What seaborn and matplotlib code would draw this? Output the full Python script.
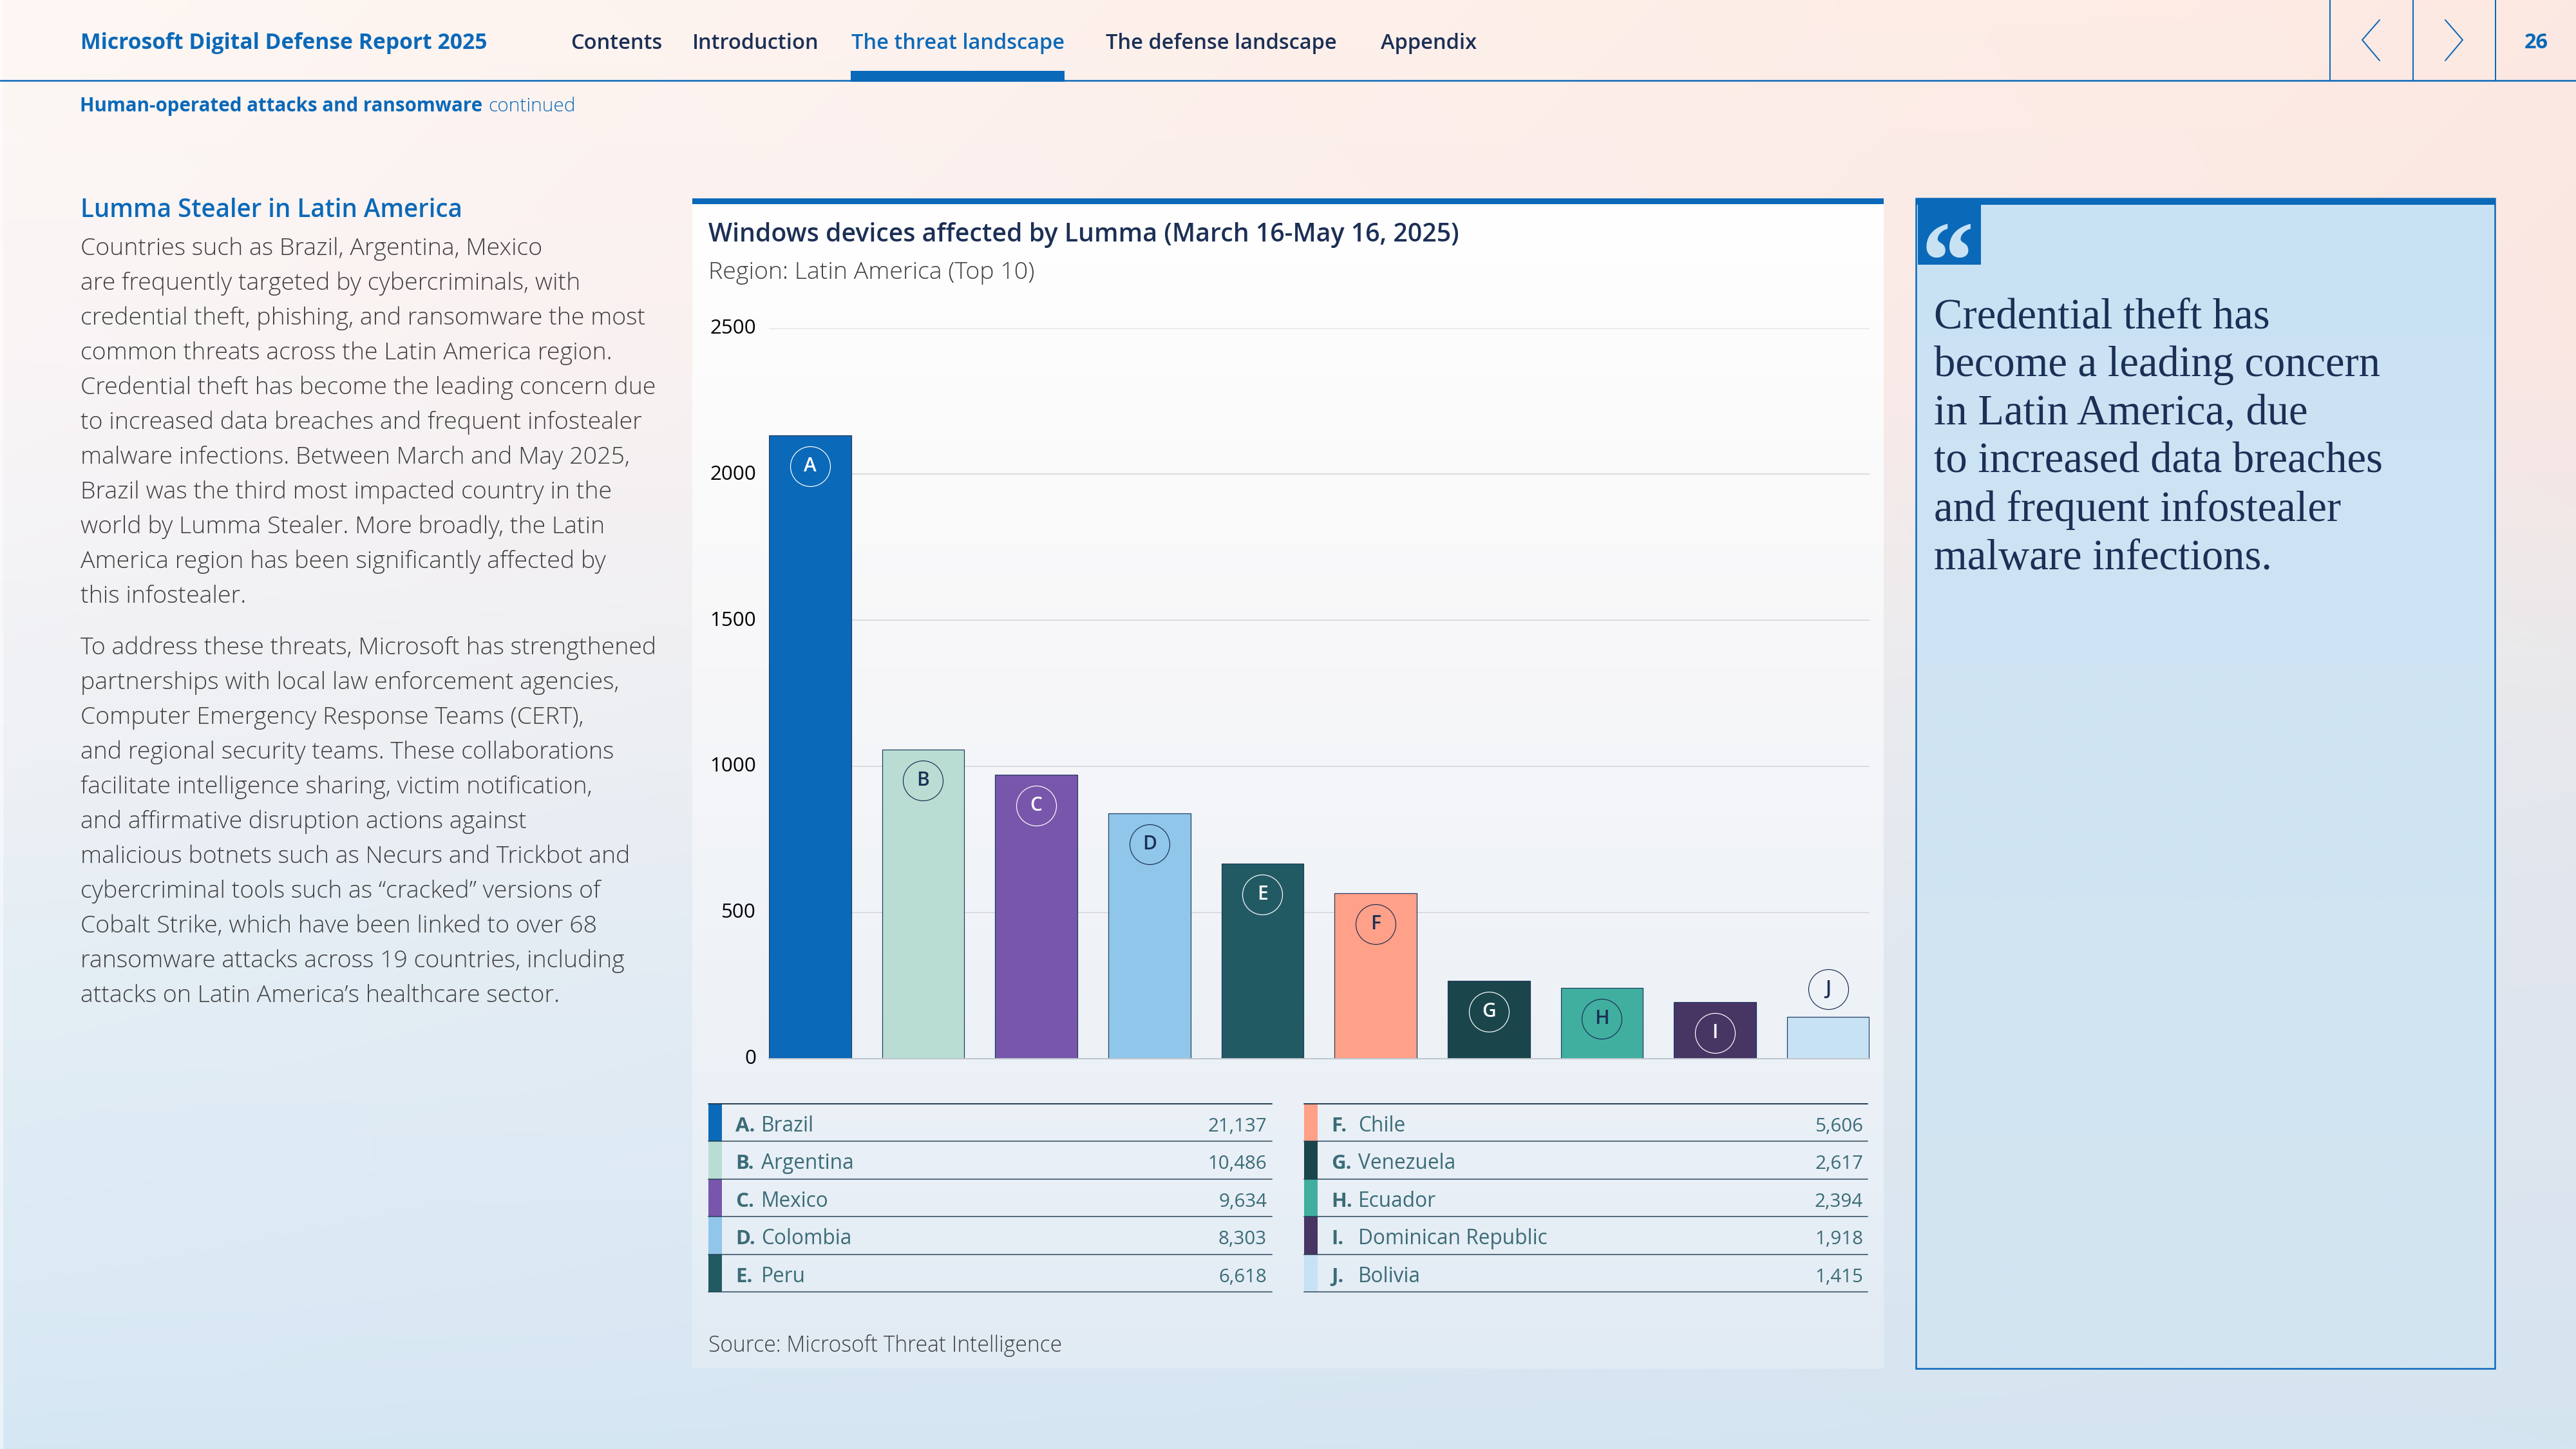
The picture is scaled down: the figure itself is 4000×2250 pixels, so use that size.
import numpy as np
import pandas as pd
import matplotlib
matplotlib.use("Agg")
import matplotlib.pyplot as plt
from matplotlib.colors import to_rgb
from matplotlib.patches import Rectangle
from matplotlib.transforms import ScaledTranslation, offset_copy
import seaborn as sns

# =========================
# Data
# =========================
letters = ["A", "B", "C", "D", "E", "F", "G", "H", "I", "J"]
countries = ["Brazil", "Argentina", "Mexico", "Colombia", "Peru",
             "Chile", "Venezuela", "Ecuador", "Dominican Republic", "Bolivia"]
device_counts = [21137, 10486, 9634, 8303, 6618, 5606, 2617, 2394, 1918, 1415]
bar_heights = [2134, 1058, 972, 838, 668, 566, 265, 242, 194, 143]
y_ticks = [0, 500, 1000, 1500, 2000, 2500]

bar_colors = ["#0B69B9", "#B9DDD2", "#7856AB", "#90C6EA", "#225A64",
              "#FFA088", "#1A454B", "#40AFA0", "#473564", "#C7E2F4"]
badge_colors = ["white", "#1C2F55", "white", "#1C2F55", "white",
                "#1C2F55", "white", "#1C2F55", "white", "#1C2F55"]

nav_items = ["Contents", "Introduction", "The threat landscape", "The defense landscape", "Appendix"]
nav_x = [886, 1075, 1322, 1717, 2144]

para_one = [
    "Countries such as Brazil, Argentina, Mexico",
    "are frequently targeted by cybercriminals, with",
    "credential theft, phishing, and ransomware the most",
    "common threats across the Latin America region.",
    "Credential theft has become the leading concern due",
    "to increased data breaches and frequent infostealer",
    "malware infections. Between March and May 2025,",
    "Brazil was the third most impacted country in the",
    "world by Lumma Stealer. More broadly, the Latin",
    "America region has been significantly affected by",
    "this infostealer.",
]
para_two = [
    "To address these threats, Microsoft has strengthened",
    "partnerships with local law enforcement agencies,",
    "Computer Emergency Response Teams (CERT),",
    "and regional security teams. These collaborations",
    "facilitate intelligence sharing, victim notification,",
    "and affirmative disruption actions against",
    "malicious botnets such as Necurs and Trickbot and",
    "cybercriminal tools such as \u201ccracked\u201d versions of",
    "Cobalt Strike, which have been linked to over 68",
    "ransomware attacks across 19 countries, including",
    "attacks on Latin America\u2019s healthcare sector.",
]
quote_lines = [
    "Credential theft has",
    "become a leading concern",
    "in Latin America, due",
    "to increased data breaches",
    "and frequent infostealer",
    "malware infections.",
]

# =========================
# Style
# =========================
BLUE = "#0B69B9"
NAVY = "#1C2F55"
GREY = "#404040"
TEAL = "#3B6C77"
SANS = "Open Sans"

sns.set_theme(style="white")
plt.rcParams["font.family"] = [SANS, "DejaVu Sans"]

W, H = 4000, 2250
fig = plt.figure(figsize=(16, 9), dpi=250)
PX = 72 / 250  # one pixel in points


def ramp(stops, n=200):
    ys = np.linspace(0, 1, n)
    pos = [s[0] for s in stops]
    rgb = np.array([to_rgb(s[1]) for s in stops])
    return np.stack([np.interp(ys, pos, rgb[:, c]) for c in range(3)], axis=1)


# =========================
# Page background
# =========================
page = fig.add_axes([0, 0, 1, 1])
left_col = ramp([(0, "#FEF7F3"), (0.25, "#F9F5F6"), (0.5, "#EFF1F5"), (0.67, "#E4EEF5"),
                 (0.89, "#DBEAF5"), (1, "#D6E7F4")])
right_col = ramp([(0, "#FDE9E2"), (0.25, "#FAE7E3"), (0.45, "#EAE9EB"), (0.6, "#E2E6EE"),
                  (0.8, "#DDE5EE"), (1, "#D4E4F0")])
mix = np.linspace(0, 1, 200)[None, :, None]
page.imshow(left_col[:, None, :] * (1 - mix) + right_col[:, None, :] * mix,
            extent=(0, W, H, 0), aspect="auto", interpolation="bilinear", zorder=0)
page.add_patch(Rectangle((0, 0), 5, H, facecolor="white", alpha=0.5, edgecolor="none", zorder=1))
page.set_xlim(0, W)
page.set_ylim(H, 0)
page.axis("off")


def label(x, y, s, size, color=GREY, weight="normal", ha="left", family=SANS):
    return page.text(x, y, s, fontsize=size, color=color, fontweight=weight, ha=ha, va="baseline",
                     family=family, zorder=5)


def box(x0, y0, x1, y1, color, z=2):
    page.add_patch(Rectangle((x0, y0), x1 - x0, y1 - y0, facecolor=color, edgecolor="none", zorder=z))


# =========================
# Header
# =========================
page.plot([0, W], [125, 125], color=BLUE, lw=2.5 * PX, zorder=3)
box(1321, 110, 1653, 127, BLUE, z=3)
label(125, 76, "Microsoft Digital Defense Report 2025", 9.7, BLUE, "bold")
for name, x in zip(nav_items, nav_x):
    is_active = name == "The threat landscape"
    label(x, 76, name, 9.4, BLUE if is_active else NAVY, 600)

for x in [3618, 3747, 3875]:
    page.plot([x, x], [0, 125], color=BLUE, lw=2 * PX, zorder=3)
page.plot([3695, 3668, 3695], [31, 62, 94], color=BLUE, lw=2 * PX, zorder=3)
page.plot([3797, 3824, 3797], [31, 62, 94], color=BLUE, lw=2 * PX, zorder=3)
label(3938, 75, "26", 9.4, BLUE, "bold", ha="center")

label(124, 173, "Human-operated attacks and ransomware", 8.5, BLUE, "bold")
label(758, 173, "continued", 8.6, BLUE, 300)

# =========================
# Left text column
# =========================
label(125, 337, "Lumma Stealer in Latin America", 11.1, BLUE, 600)
for i, line in enumerate(para_one):
    label(125, 396 + 54 * i, line, 10.8, GREY, 300)
for i, line in enumerate(para_two):
    label(125, 1016 + 54 * i, line, 10.8, GREY, 300)

# =========================
# Chart panel
# =========================
panel_fill = ramp([(0, "#FFFFFF"), (0.1, "#FDFDFD"), (0.4, "#F7F7F9"), (0.65, "#EFF3F7"),
                   (0.85, "#E8EFF6"), (1, "#E1EBF4")])
page.imshow(panel_fill[:, None, :], extent=(1075, 2925, 2125, 310), aspect="auto",
            interpolation="bilinear", zorder=1)
page.set_xlim(0, W)
page.set_ylim(H, 0)
box(1075, 308, 2925, 317, BLUE)
label(1100, 375, "Windows devices affected by Lumma (March 16-May 16, 2025)", 11.3, NAVY, 600)
label(1100, 433, "Region: Latin America (Top 10)", 10.8, GREY, 300)
label(1100, 2099, "Source: Microsoft Threat Intelligence", 9.7, GREY, 300)

# =========================
# Bars
# =========================
ax_left, ax_right, ax_top, ax_bottom = 1194, 2902.5, 509.7, 1643.5
ax = fig.add_axes([ax_left / W, 1 - ax_bottom / H, (ax_right - ax_left) / W, (ax_bottom - ax_top) / H])
ax.patch.set_alpha(0)

df = pd.DataFrame({"letter": letters, "height": bar_heights})
sns.barplot(data=df, x="letter", y="height", hue="letter", palette=bar_colors, saturation=1,
            width=0.726, legend=False, edgecolor="#1F3A5F", linewidth=1.2 * PX, ax=ax)
ax.set_xlim(-0.363, 9.363)
ax.set_ylim(0, 2500)
ax.set_yticks(y_ticks)
ax.set_xlabel("")
ax.set_ylabel("")
ax.set_axisbelow(True)
ax.yaxis.grid(True, color="#DADCDF", lw=2 * PX)
ax.tick_params(axis="x", bottom=False, labelbottom=False, length=0)
ax.tick_params(axis="y", left=False, length=0, pad=20 * PX, labelsize=9, labelcolor="black")
# tick labels sit a touch above their gridlines
nudge = ScaledTranslation(0, 3 / 250, fig.dpi_scale_trans)
for t in ax.get_yticklabels():
    t.set_transform(t.get_transform() + nudge)
sns.despine(ax=ax, left=True)
ax.spines["bottom"].set_color("#BFC6CE")
ax.spines["bottom"].set_linewidth(2 * PX)

# badges sit inside each bar, except the last one which sits above it
for i, (letter, h, c) in enumerate(zip(letters, bar_heights, badge_colors)):
    shift = 43 if letter == "J" else -48
    tr = offset_copy(ax.transData, fig=fig, x=0, y=shift, units="dots")
    ax.plot(i, h, "o", ms=62 * PX, mfc="none", mec=c, mew=1.2 * PX, transform=tr, clip_on=False, zorder=6)
    ax.text(i, h, letter, color=c, fontsize=8.6, fontweight=600, ha="center", va="center", transform=tr, zorder=7)

# =========================
# Table under the bars
# =========================
table_cols = [(1100, 1975, 1142, 1182, 1967), (2025, 2900, 2067, 2109, 2893)]
row_h = 58.4
for col, (x0, x1, x_letter, x_name, x_value) in enumerate(table_cols):
    for r in range(5):
        i = col * 5 + r
        top = 1714 + r * row_h
        box(x0, top, x0 + 21, top + row_h, bar_colors[i], z=2)
        label(x_letter, top + 43, letters[i] + ".", 9, TEAL, "bold")
        label(x_name, top + 43, countries[i], 9.1, TEAL, "normal")
        label(x_value, top + 43, f"{device_counts[i]:,}", 8.5, TEAL, "normal", ha="right")
    for r in range(6):
        y = 1714 + r * row_h
        page.plot([x0, x1], [y, y], color="#1F3A50", alpha=0.95 if r == 0 else 0.7, lw=2 * PX, zorder=3)

# =========================
# Quote panel
# =========================
quote_fill = ramp([(0, "#C8E2F4"), (0.4, "#CFE4F3"), (1, "#D2E4F0")])
page.imshow(quote_fill[:, None, :], extent=(2975, 3874, 2125, 310), aspect="auto",
            interpolation="bilinear", zorder=1)
page.set_xlim(0, W)
page.set_ylim(H, 0)
page.add_patch(Rectangle((2975, 308), 899, 1817, facecolor="none", edgecolor=BLUE, lw=2.5 * PX, zorder=3))
box(2975, 308, 3874, 318, BLUE, z=3)
box(2978, 308, 3076, 411, BLUE, z=3)
mark = label(2975, 463, "\u201c", 50, "#C8E2F4", "bold", family="Liberation Serif")
mark.set_style("italic")
for i, line in enumerate(quote_lines):
    label(3003, 509 + 75 * i, line, 19.2, NAVY, "normal", family="Liberation Serif")

fig.savefig("out.png", dpi=250)
